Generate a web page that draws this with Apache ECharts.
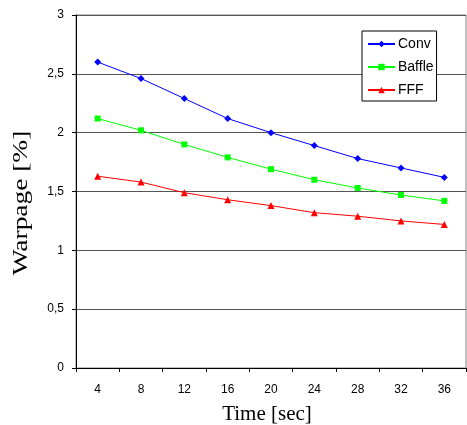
<!DOCTYPE html>
<html>
<head>
<meta charset="utf-8">
<script src="https://cdn.jsdelivr.net/npm/echarts@6/dist/echarts.min.js"></script>
<style>
html,body{margin:0;padding:0;background:#fff;}
#chart{width:467px;height:425px;}
</style>
</head>
<body>
<div id="chart"></div>
<script>
// Molding time categories (seconds)
const times = ['4', '8', '12', '16', '20', '24', '28', '32', '36'];

// Warpage (%) for each process variant
const conv   = [2.60, 2.46, 2.29, 2.12, 2.00, 1.89, 1.78, 1.70, 1.62];
const baffle = [2.12, 2.02, 1.90, 1.79, 1.69, 1.60, 1.53, 1.47, 1.42];
const fff    = [1.63, 1.58, 1.49, 1.43, 1.38, 1.32, 1.29, 1.25, 1.22];

// Y axis tick values
const yTicks = [0, 0.5, 1, 1.5, 2, 2.5, 3];

const chart = echarts.init(document.getElementById('chart'), null, {renderer: 'canvas'});

function lineSeries(name, data, color, symbol, size) {
  return {
    name: name,
    type: 'line',
    data: data,
    symbol: symbol,
    symbolSize: size,
    lineStyle: {color: color, width: 1},
    itemStyle: {color: color},
    animation: false
  };
}

chart.setOption({
  animation: false,
  backgroundColor: '#ffffff',
  grid: {
    left: 76, top: 15, right: 1, bottom: 57,
    outerBoundsMode: 'none',
    containLabel: false,
    show: true, borderColor: '#808080', borderWidth: 1
  },
  legend: {
    orient: 'vertical',
    left: 362,
    top: 31,
    width: 74,
    padding: [6, 3, 4, 5],
    itemGap: 9,
    itemWidth: 27,
    itemHeight: 8,
    borderColor: '#000',
    borderWidth: 1,
    backgroundColor: '#fff',
    textStyle: {fontFamily: 'Liberation Sans', fontSize: 14, color: '#000', padding: [0, 0, 0, -2]},
    data: ['Conv', 'Baffle', 'FFF']
  },
  // Axis titles, stretched along their reading direction
  graphic: [
    {
      type: 'text', x: 267, y: 414, scaleX: 1.0,
      style: {text: 'Time [sec]', fontFamily: 'Liberation Serif', fontSize: 21,
              fill: '#000', align: 'center', verticalAlign: 'middle'}
    },
    {
      type: 'text', x: 22, y: 203, rotation: Math.PI / 2, scaleX: 1.37,
      style: {text: 'Warpage [%]', fontFamily: 'Liberation Serif', fontSize: 20,
              fill: '#000', align: 'center', verticalAlign: 'middle'}
    }
  ],
  xAxis: {
    type: 'category',
    data: times,
    boundaryGap: true,
    axisLine: {lineStyle: {color: '#000', width: 1}},
    axisTick: {show: true, length: 4, lineStyle: {color: '#000'}},
    axisLabel: {fontFamily: 'Liberation Sans', fontSize: 12, color: '#000', margin: 16}
  },
  yAxis: {
    type: 'value',
    min: yTicks[0],
    max: yTicks[yTicks.length - 1],
    interval: 0.5,
    axisLine: {show: true, lineStyle: {color: '#000', width: 1}},
    axisTick: {show: true, length: 4, lineStyle: {color: '#000'}},
    axisLabel: {
      fontFamily: 'Liberation Sans', fontSize: 12, color: '#000', margin: 12,
      formatter: v => String(v).replace('.', ',')
    },
    splitLine: {show: true, lineStyle: {color: '#555', width: 1}}
  },
  series: [
    lineSeries('Conv', conv, '#0000ff', 'diamond', 7),
    lineSeries('Baffle', baffle, '#00ff00', 'rect', 6),
    lineSeries('FFF', fff, '#ff0000', 'triangle', 7)
  ]
});
</script>
</body>
</html>
